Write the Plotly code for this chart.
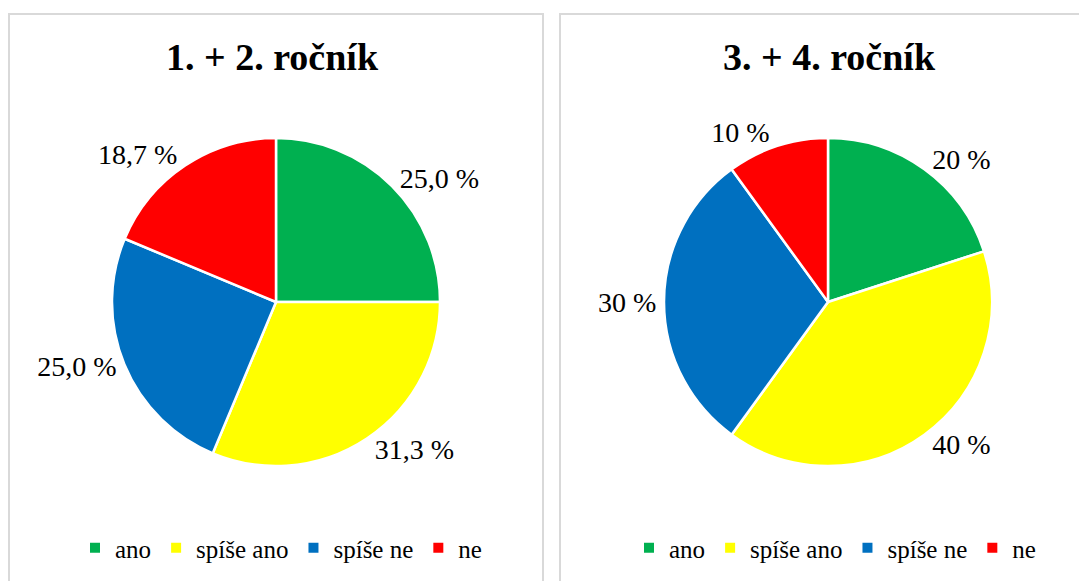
import plotly.graph_objects as go

W, H = 1087, 581
OFF = 8  # page body margin in the browser

categories = ["ano", "spíše ano", "spíše ne", "ne"]
colors = ["#00B050", "#FFFF00", "#0070C0", "#FF0000"]

# 1. + 2. rocnik
values_12 = [25.0, 31.3, 25.0, 18.7]
labels_12 = ["25,0 %", "31,3 %", "25,0 %", "18,7 %"]

# 3. + 4. rocnik
values_34 = [20, 40, 30, 10]
labels_34 = ["20 %", "40 %", "30 %", "10 %"]

titles = ["1. + 2. ročník", "3. + 4. ročník"]

FONT = "Liberation Serif"


def px_x(x):
    return (x - OFF) / W


def px_y(y):
    return 1 - (y - OFF) / H


fig = go.Figure()

# pie centres and radius in pixels
centers = [(276, 302), (828, 302)]
R = 164

for i, (vals, txt) in enumerate([(values_12, labels_12), (values_34, labels_34)]):
    cx, cy = centers[i]
    # a zero-width suffix keeps the two pies' legend entries apart
    names = [c + "\u200b" * i for c in categories]
    fig.add_trace(go.Pie(
        labels=names,
        values=vals,
        text=txt,
        textinfo="text",
        textposition="outside",
        textfont=dict(family=FONT, size=28, color="black"),
        marker=dict(colors=colors, line=dict(color="white", width=2.5)),
        sort=False,
        direction="clockwise",
        rotation=0,
        domain=dict(x=[px_x(cx - 200), px_x(cx + 200)],
                    y=[px_y(cy + R), px_y(cy - R)]),
        legend="legend" if i == 0 else "legend2",
        showlegend=True,
        hoverinfo="label+percent",
    ))

legend_style = dict(
    orientation="h",
    xref="container",
    yref="container",
    xanchor="center",
    yanchor="middle",
    y=px_y(548),
    font=dict(family=FONT, size=25, color="black"),
    bgcolor="rgba(0,0,0,0)",
    itemsizing="constant",
    traceorder="normal",
)

shapes = [
    dict(type="rect", xref="paper", yref="paper",
         x0=px_x(9), x1=px_x(543), y0=-0.05, y1=px_y(14),
         line=dict(color="#d9d9d9", width=2)),
    dict(type="rect", xref="paper", yref="paper",
         x0=px_x(560), x1=1.05, y0=-0.05, y1=px_y(14),
         line=dict(color="#d9d9d9", width=2)),
]

annotations = []
for i, t in enumerate(titles):
    annotations.append(dict(
        text=t, xref="paper", yref="paper",
        x=px_x(centers[i][0] + (-4 if i == 0 else 1)), y=px_y(57),
        xanchor="center", yanchor="middle", showarrow=False,
        font=dict(family=FONT, size=38, color="black", weight="bold"),
    ))

fig.update_layout(
    width=W, height=H,
    margin=dict(l=0, r=0, t=0, b=0, autoexpand=False),
    paper_bgcolor="white",
    plot_bgcolor="white",
    font=dict(family=FONT),
    legend=dict(legend_style, x=px_x(281)),
    legend2=dict(legend_style, x=px_x(835)),
    shapes=shapes,
    annotations=annotations,
)

fig.write_html("out.html")
